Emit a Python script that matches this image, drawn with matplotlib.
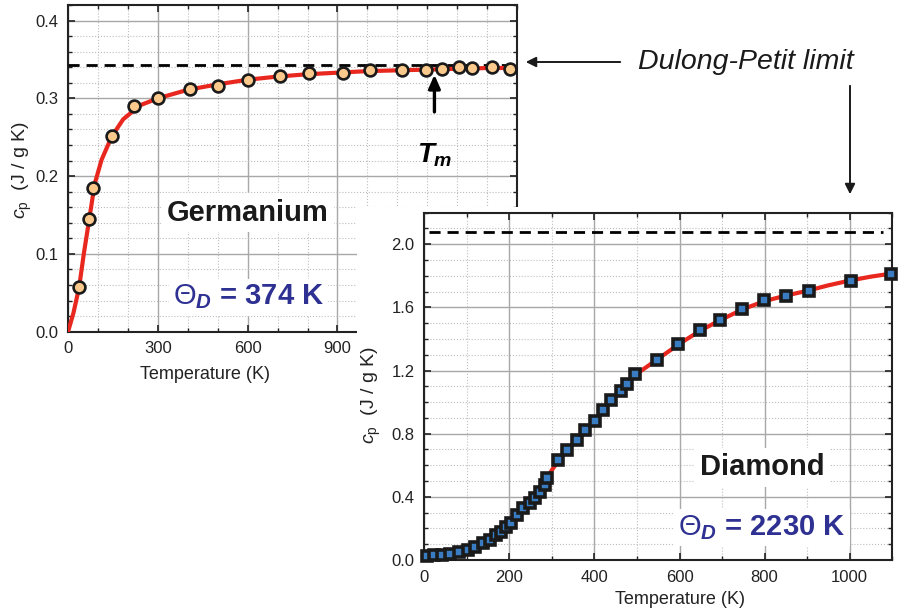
import matplotlib
matplotlib.use("Agg")
import matplotlib.pyplot as plt
from matplotlib.patches import Rectangle, FancyArrowPatch
from matplotlib.ticker import MultipleLocator

plt.rcParams['font.family'] = ['Liberation Sans', 'DejaVu Sans']
plt.rcParams['mathtext.fontset'] = 'custom'
plt.rcParams['mathtext.it'] = 'Liberation Sans:italic:bold'
plt.rcParams['mathtext.rm'] = 'Liberation Sans'
plt.rcParams['mathtext.sf'] = 'Liberation Sans:italic'
plt.rcParams['mathtext.bf'] = 'Liberation Sans:bold'

ge_T = [37, 71, 85, 146, 222, 300, 406, 502, 600, 709, 806, 919, 1008,
        1115, 1196, 1250, 1305, 1350, 1417, 1478]
ge_cp = [0.057, 0.145, 0.185, 0.251, 0.290, 0.300, 0.312, 0.316, 0.323,
         0.329, 0.332, 0.332, 0.337, 0.337, 0.337, 0.338, 0.340, 0.339,
         0.340, 0.338]
ge_fit_T = [0, 18, 37, 53, 71, 89, 112, 146, 184, 240, 300, 400, 500, 600,
            700, 800, 900, 1000, 1100, 1200, 1300, 1400, 1500]
ge_fit_cp = [0.0, 0.024, 0.057, 0.101, 0.145, 0.19, 0.221, 0.251, 0.273,
             0.291, 0.300, 0.311, 0.318, 0.324, 0.328, 0.331, 0.333, 0.335,
             0.336, 0.337, 0.338, 0.339, 0.339]
ge_limit = 0.343
ge_Tm = 1224

# Diamond: measured points and Debye fit
di_T = [7, 23, 41, 60, 82, 102, 119, 138, 154, 168, 180, 192, 203, 217,
        232, 248, 260, 271, 283, 288, 314, 336, 359, 378, 402, 420, 438,
        463, 476, 496, 547, 596, 648, 695, 747, 798, 850, 904, 1004, 1097]
di_cp = [0.025, 0.030, 0.032, 0.038, 0.049, 0.061, 0.080, 0.105, 0.126,
         0.158, 0.179, 0.210, 0.232, 0.284, 0.327, 0.358, 0.390, 0.431,
         0.474, 0.520, 0.632, 0.695, 0.762, 0.826, 0.878, 0.948, 1.011,
         1.070, 1.112, 1.175, 1.268, 1.369, 1.457, 1.522, 1.590, 1.647,
         1.672, 1.701, 1.769, 1.813]
di_fit_T = [0, 50, 100, 150, 200, 225, 250, 275, 300, 325, 350, 375, 400,
            450, 500, 550, 600, 650, 700, 750, 800, 850, 900, 950, 1000,
            1050, 1100]
di_fit_cp = [0.02, 0.035, 0.062, 0.12, 0.225, 0.29, 0.365, 0.455, 0.57,
             0.665, 0.74, 0.81, 0.88, 1.04, 1.18, 1.275, 1.37, 1.455,
             1.525, 1.59, 1.64, 1.675, 1.705, 1.74, 1.77, 1.795, 1.815]
di_limit = 2.08

RED = '#e8281f'
NAVY = '#2e3192'


def style_axes(ax, xmaj, xmin, ymaj, ymin):
    ax.xaxis.set_major_locator(MultipleLocator(xmaj))
    ax.xaxis.set_minor_locator(MultipleLocator(xmin))
    ax.yaxis.set_major_locator(MultipleLocator(ymaj))
    ax.yaxis.set_minor_locator(MultipleLocator(ymin))
    ax.grid(which='major', color='#a8a8a8', lw=1.0)
    ax.grid(which='minor', color='#bdbdbd', lw=0.8, ls=':')
    ax.set_axisbelow(True)
    ax.tick_params(which='both', direction='in', top=True, right=True,
                   labelsize=12, pad=7, color='#222222', labelcolor='#222222')
    ax.tick_params(which='major', length=5, width=1.2)
    ax.tick_params(which='minor', length=3, width=1.0)
    for s in ax.spines.values():
        s.set_linewidth(1.5)
        s.set_color('#222222')


fig = plt.figure(figsize=(9, 6.11), dpi=100)

# ---- Germanium ----
ax_ge = fig.add_axes([0.0756, 0.4571, 0.4989, 0.5347])
style_axes(ax_ge, 300, 100, 0.1, 0.02)
ax_ge.set_xlim(0, 1500)
ax_ge.set_ylim(0, 0.42)
ax_ge.set_xticks([0, 300, 600, 900])
ax_ge.yaxis.set_major_formatter(lambda v, p: f'{v:.1f}')
ax_ge.axhline(ge_limit, color='black', lw=2, dashes=(4, 2.5), zorder=3)
ax_ge.plot(ge_fit_T, ge_fit_cp, color=RED, lw=3, zorder=4)
ax_ge.plot(ge_T, ge_cp, 'o', ms=8.5, mfc='#fcc98c', mec='#1a1a1a', mew=1.9,
           zorder=5, clip_on=False)
ax_ge.set_xlabel('Temperature (K)', fontsize=13, va='center', color='#222222')
ax_ge.xaxis.set_label_coords(0.305, -0.1325)
ax_ge.set_ylabel(r'$\mathsf{c}_{\mathrm{p}}$  (J / g K)', fontsize=14,
                 va='center', color='#222222')
ax_ge.yaxis.set_label_coords(-0.102, 0.495)
ax_ge.text(599, 0.153, 'Germanium', fontsize=21, fontweight='bold',
           color='#1a1a1a', ha='center', va='center', zorder=6,
           bbox=dict(facecolor='white', edgecolor='none', pad=4))
ax_ge.text(602, 0.0446, r'$\mathit{\Theta_D}$ = 374 K', fontsize=21,
           fontweight='bold', color=NAVY, ha='center', va='center', zorder=6,
           bbox=dict(facecolor='white', edgecolor='none', pad=3))
ax_ge.annotate('', xy=(ge_Tm, 0.334), xytext=(ge_Tm, 0.279),
               arrowprops=dict(arrowstyle='-|>,head_length=0.8,head_width=0.35',
                               color='black', lw=2.4), zorder=6)
ax_ge.text(ge_Tm, 0.227, r'$\mathit{T_m}$', fontsize=20, ha='center',
           va='center', zorder=6)

# white patch behind the diamond panel
ax_ge.add_patch(Rectangle((0.3967, 0), 0.6033, 0.6612, transform=fig.transFigure,
                          facecolor='white', edgecolor='none', zorder=10,
                          clip_on=False))

# ---- Diamond ----
ax_di = fig.add_axes([0.4714, 0.0835, 0.52, 0.5684])
style_axes(ax_di, 200, 100, 0.4, 0.1)
ax_di.set_xlim(0, 1100)
ax_di.set_ylim(0, 2.2)
ax_di.yaxis.set_major_formatter(lambda v, p: f'{v:.1f}')
ax_di.axhline(di_limit, xmin=0.01, xmax=0.98, color='black', lw=2,
              dashes=(4, 2.5), zorder=3)
ax_di.plot(di_fit_T, di_fit_cp, color=RED, lw=3, zorder=4)
ax_di.plot(di_T, di_cp, 's', ms=7.5, mfc='#3a7cc2', mec='#1a1a1a', mew=2.6,
           zorder=5, clip_on=False)
ax_di.set_xlabel('Temperature (K)', fontsize=13, va='center', color='#222222')
ax_di.xaxis.set_label_coords(0.546, -0.115)
ax_di.set_ylabel(r'$\mathsf{c}_{\mathrm{p}}$  (J / g K)', fontsize=14,
                 va='center', color='#222222')
ax_di.yaxis.set_label_coords(-0.112, 0.475)
ax_di.text(794, 0.587, 'Diamond', fontsize=21, fontweight='bold',
           color='#1a1a1a', ha='center', va='center', zorder=6,
           bbox=dict(facecolor='white', edgecolor='none', pad=4))
ax_di.text(794, 0.208, r'$\mathit{\Theta_D}$ = 2230 K', fontsize=21,
           fontweight='bold', color=NAVY, ha='center', va='center', zorder=6,
           bbox=dict(facecolor='white', edgecolor='none', pad=3))

# ---- Dulong-Petit label and arrows ----
fig.text(0.829, 0.8985, 'Dulong-Petit limit', fontsize=20.5, style='italic',
         color='#1a1a1a', ha='center', va='center')
fig.add_artist(FancyArrowPatch(
    (623 / 900, 1 - 62 / 611), (523 / 900, 1 - 62 / 611),
    transform=fig.transFigure, arrowstyle='-|>,head_length=6,head_width=3',
    color='#1a1a1a', lw=1.4))
fig.add_artist(FancyArrowPatch(
    (850 / 900, 1 - 83 / 611), (850 / 900, 1 - 197 / 611),
    transform=fig.transFigure, arrowstyle='-|>,head_length=6,head_width=3',
    color='#1a1a1a', lw=1.4))

fig.savefig('out.png', dpi=100)
